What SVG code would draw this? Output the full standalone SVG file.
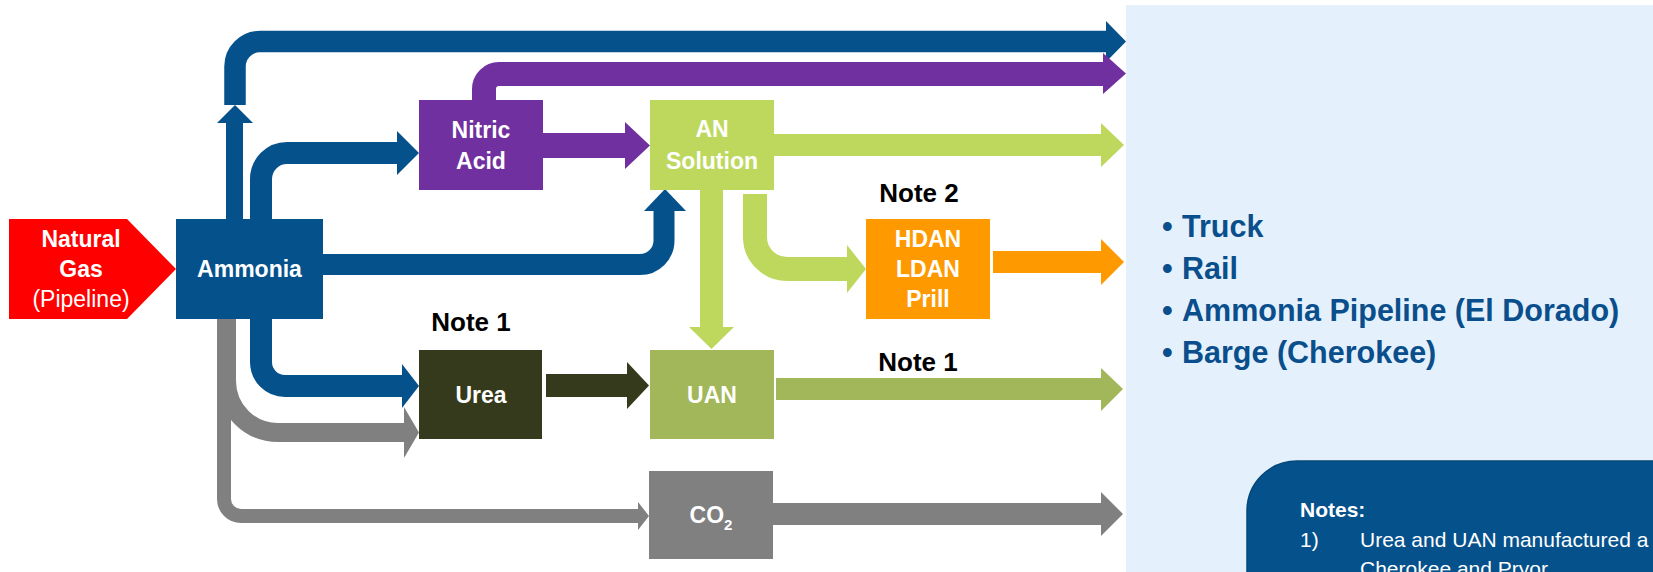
<svg xmlns="http://www.w3.org/2000/svg" width="1653" height="572" viewBox="0 0 1653 572">
<style>
.bg{fill:#ffffff}
.panel{fill:#e4f1fd}
.blue{fill:#05518c}
.purple{fill:#7030a0}
.lgreen{fill:#bed85e}
.ogreen{fill:#a2b65a}
.dgreen{fill:#343a1b}
.orange{fill:#ff9900}
.gray{fill:#808080}
.red{fill:#ff0000}
.sb{fill:none;stroke:#05518c}
.sp{fill:none;stroke:#7030a0}
.sl{fill:none;stroke:#bed85e}
.sg{fill:none;stroke:#808080}
.lbl{font-family:"Liberation Sans",Arial,sans-serif;font-weight:bold;font-size:23px;fill:#ffffff;text-anchor:middle}
.reg{font-weight:normal}
.note{font-family:"Liberation Sans",Arial,sans-serif;font-weight:bold;font-size:26px;fill:#000000;text-anchor:middle}
.bul{font-family:"Liberation Sans",Arial,sans-serif;font-weight:bold;font-size:30.5px;fill:#0a4f8c}
.nt{font-family:"Liberation Sans",Arial,sans-serif;font-size:21px;fill:#ffffff}
</style>
<rect class="bg" x="0" y="0" width="1653" height="572"/>
<rect class="panel" x="1126" y="5" width="527" height="567"/>

<g id="connectors">
  <rect class="blue" x="226" y="123" width="17" height="96"/>
  <polygon class="blue" points="217,123 235,105 253,123"/>
  <path class="sb" stroke-width="21.5" d="M235,105 V66.5 A25,25 0 0 1 260,41.5 H1107"/>
  <polygon class="blue" points="1106,21 1126,41.5 1106,62"/>
  <path class="sb" stroke-width="22" d="M261,219 V179 A26,26 0 0 1 287,153 H398"/>
  <polygon class="blue" points="397,131 419,153 397,175"/>
  <path class="sb" stroke-width="21" d="M323,264.5 H640 A24,24 0 0 0 664,240.5 V210"/>
  <polygon class="blue" points="644,211 665,189 686,211"/>
  <path class="sb" stroke-width="22" d="M261,319 V362 A24,24 0 0 0 285,386 H403"/>
  <polygon class="blue" points="402,364 419,386 402,408"/>
  <path class="sg" stroke-width="19" d="M226.5,319 V381 A51.5,51.5 0 0 0 278,432.5 H405"/>
  <polygon class="gray" points="404,407 419,432.5 404,458"/>
  <path class="sg" stroke-width="14" d="M224,319 V499 A17,17 0 0 0 241,516 H639"/>
  <polygon class="gray" points="638,502 649,516 638,530"/>
  <path class="sp" stroke-width="24" d="M484,100 V89 A15,15 0 0 1 499,74 H1104"/>
  <polygon class="purple" points="1103,53 1126,73.5 1103,94"/>
  <rect class="purple" x="543" y="133" width="83" height="25"/>
  <polygon class="purple" points="625,122 650,145.5 625,169"/>
  <rect class="lgreen" x="774" y="134" width="328" height="22"/>
  <polygon class="lgreen" points="1101,123 1124,145 1101,167"/>
  <rect class="lgreen" x="700" y="190" width="23" height="138"/>
  <polygon class="lgreen" points="689,327 711.5,349 734,327"/>
  <path class="sl" stroke-width="24" d="M755,194 V237 A32,32 0 0 0 787,269 H848"/>
  <polygon class="lgreen" points="847,245 866,269 847,293"/>
  <rect class="orange" x="993" y="251" width="109" height="22"/>
  <polygon class="orange" points="1101,239 1124,262 1101,285"/>
  <rect class="dgreen" x="546" y="374" width="82" height="23"/>
  <polygon class="dgreen" points="627,362 649,385.5 627,409"/>
  <rect class="ogreen" x="776" y="378" width="326" height="22"/>
  <polygon class="ogreen" points="1101,368 1123,389 1101,411"/>
  <rect class="gray" x="773" y="503" width="329" height="22"/>
  <polygon class="gray" points="1101,492 1123,514 1101,536"/>
</g>

<g id="natural-gas">
  <polygon class="red" points="9,219 127,219 176,269 127,319 9,319"/>
  <text class="lbl" x="81" y="247">Natural</text>
  <text class="lbl" x="81" y="277">Gas</text>
  <text class="lbl reg" x="81" y="307">(Pipeline)</text>
</g>
<g id="ammonia">
  <rect class="blue" x="176" y="219" width="147" height="100"/>
  <text class="lbl" x="249.5" y="277">Ammonia</text>
</g>
<g id="nitric-acid">
  <rect class="purple" x="419" y="100" width="124" height="90"/>
  <text class="lbl" x="481" y="138">Nitric</text>
  <text class="lbl" x="481" y="169">Acid</text>
</g>
<g id="an-solution">
  <rect class="lgreen" x="650" y="100" width="124" height="90"/>
  <text class="lbl" x="712" y="137">AN</text>
  <text class="lbl" x="712" y="169">Solution</text>
</g>
<g id="hdan">
  <rect class="orange" x="866" y="219" width="124" height="100"/>
  <text class="lbl" x="928" y="247">HDAN</text>
  <text class="lbl" x="928" y="277">LDAN</text>
  <text class="lbl" x="928" y="307">Prill</text>
</g>
<g id="urea">
  <rect class="dgreen" x="419" y="350" width="123" height="89"/>
  <text class="lbl" x="481" y="403">Urea</text>
</g>
<g id="uan">
  <rect class="ogreen" x="650" y="350" width="124" height="89"/>
  <text class="lbl" x="712" y="403">UAN</text>
</g>
<g id="co2">
  <rect class="gray" x="649" y="471" width="124" height="88"/>
  <text class="lbl" x="711" y="523">CO<tspan font-size="15" dy="7">2</tspan></text>
</g>

<g id="note-labels">
  <text class="note" x="471" y="331">Note 1</text>
  <text class="note" x="919" y="202">Note 2</text>
  <text class="note" x="918" y="371">Note 1</text>
</g>

<g id="transport">
  <text class="bul" x="1162" y="237">•</text><text class="bul" x="1182" y="237">Truck</text>
  <text class="bul" x="1162" y="279">•</text><text class="bul" x="1182" y="279">Rail</text>
  <text class="bul" x="1162" y="321">•</text><text class="bul" x="1182" y="321">Ammonia Pipeline (El Dorado)</text>
  <text class="bul" x="1162" y="363">•</text><text class="bul" x="1182" y="363">Barge (Cherokee)</text>
</g>

<g id="notes">
  <rect x="1247" y="461" width="460" height="160" rx="50" ry="50" fill="#05518c" stroke="#04477a" stroke-width="1.5"/>
  <text class="nt" font-weight="bold" x="1300" y="517">Notes:</text>
  <text class="nt" x="1300" y="547">1)</text>
  <text class="nt" x="1360" y="547">Urea and UAN manufactured a</text>
  <text class="nt" x="1360" y="576">Cherokee and Pryor</text>
</g>
</svg>
